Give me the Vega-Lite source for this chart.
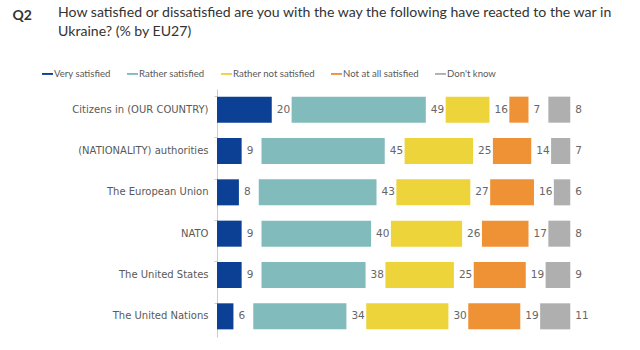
{
  "$schema": "https://vega.github.io/schema/vega-lite/v6.json",
  "autosize": "none",
  "width": 356,
  "height": 248,
  "padding": {"left": 217, "top": 89, "right": 67, "bottom": 13},
  "background": "white",
  "config": {
    "view": {"stroke": null},
    "font": "DejaVu Sans"
  },
  "title": {
    "text": ["How satisfied or dissatisfied are you with the way the following have reacted to the war in", "Ukraine? (% by EU27)"],
    "anchor": "start",
    "frame": "group",
    "dx": -159,
    "dy": 35,
    "font": "Lato",
    "fontSize": 14.1,
    "fontWeight": "normal",
    "color": "#333333",
    "lineHeight": 19,
    "baseline": "top"
  },
  "data": {
    "values": [
      {"entity": "Citizens in (OUR COUNTRY)", "category": "Very satisfied", "order": 0, "value": 20},
      {"entity": "Citizens in (OUR COUNTRY)", "category": "Rather satisfied", "order": 1, "value": 49},
      {"entity": "Citizens in (OUR COUNTRY)", "category": "Rather not satisfied", "order": 2, "value": 16},
      {"entity": "Citizens in (OUR COUNTRY)", "category": "Not at all satisfied", "order": 3, "value": 7},
      {"entity": "Citizens in (OUR COUNTRY)", "category": "Don't know", "order": 4, "value": 8},
      {"entity": "(NATIONALITY) authorities", "category": "Very satisfied", "order": 0, "value": 9},
      {"entity": "(NATIONALITY) authorities", "category": "Rather satisfied", "order": 1, "value": 45},
      {"entity": "(NATIONALITY) authorities", "category": "Rather not satisfied", "order": 2, "value": 25},
      {"entity": "(NATIONALITY) authorities", "category": "Not at all satisfied", "order": 3, "value": 14},
      {"entity": "(NATIONALITY) authorities", "category": "Don't know", "order": 4, "value": 7},
      {"entity": "The European Union", "category": "Very satisfied", "order": 0, "value": 8},
      {"entity": "The European Union", "category": "Rather satisfied", "order": 1, "value": 43},
      {"entity": "The European Union", "category": "Rather not satisfied", "order": 2, "value": 27},
      {"entity": "The European Union", "category": "Not at all satisfied", "order": 3, "value": 16},
      {"entity": "The European Union", "category": "Don't know", "order": 4, "value": 6},
      {"entity": "NATO", "category": "Very satisfied", "order": 0, "value": 9},
      {"entity": "NATO", "category": "Rather satisfied", "order": 1, "value": 40},
      {"entity": "NATO", "category": "Rather not satisfied", "order": 2, "value": 26},
      {"entity": "NATO", "category": "Not at all satisfied", "order": 3, "value": 17},
      {"entity": "NATO", "category": "Don't know", "order": 4, "value": 8},
      {"entity": "The United States", "category": "Very satisfied", "order": 0, "value": 9},
      {"entity": "The United States", "category": "Rather satisfied", "order": 1, "value": 38},
      {"entity": "The United States", "category": "Rather not satisfied", "order": 2, "value": 25},
      {"entity": "The United States", "category": "Not at all satisfied", "order": 3, "value": 19},
      {"entity": "The United States", "category": "Don't know", "order": 4, "value": 9},
      {"entity": "The United Nations", "category": "Very satisfied", "order": 0, "value": 6},
      {"entity": "The United Nations", "category": "Rather satisfied", "order": 1, "value": 34},
      {"entity": "The United Nations", "category": "Rather not satisfied", "order": 2, "value": 30},
      {"entity": "The United Nations", "category": "Not at all satisfied", "order": 3, "value": 19},
      {"entity": "The United Nations", "category": "Don't know", "order": 4, "value": 11}
    ]
  },
  "transform": [
    {"stack": "value", "groupby": ["entity"], "sort": [{"field": "order", "order": "ascending"}], "as": ["v0", "v1"]},
    {"calculate": "datum.v0 + datum.order * 7.25", "as": "x0"},
    {"calculate": "datum.v1 + datum.order * 7.25", "as": "x1"}
  ],
  "encoding": {
    "y": {
      "field": "entity",
      "type": "nominal",
      "sort": ["Citizens in (OUR COUNTRY)", "(NATIONALITY) authorities", "The European Union", "NATO", "The United States", "The United Nations"],
      "scale": {"paddingInner": 0.37, "paddingOuter": 0.185},
      "axis": {
        "title": "Q2",
        "titleAngle": 0,
        "titleX": -205,
        "titleY": -70,
        "titleAlign": "left",
        "titleBaseline": "alphabetic",
        "titleFont": "Lato",
        "titleFontSize": 14,
        "titleFontWeight": "bold",
        "titleColor": "#333333",
        "labelFont": "DejaVu Sans",
        "labelFontSize": 10,
        "labelColor": "#595959",
        "labelPadding": 6,
        "tickSize": 3,
        "tickColor": "#cccccc",
        "domainColor": "#cccccc",
        "bandPosition": 0,
        "domainWidth": 1
      }
    }
  },
  "layer": [
    {
      "mark": {"type": "bar"},
      "encoding": {
        "x": {"field": "x0", "type": "quantitative", "scale": {"domain": [0, 129]}, "axis": null},
        "x2": {"field": "x1"},
        "color": {
          "field": "category",
          "type": "nominal",
          "scale": {
            "domain": ["Very satisfied", "Rather satisfied", "Rather not satisfied", "Not at all satisfied", "Don't know"],
            "range": ["#0B4095", "#81BBBB", "#EDD43A", "#EF9236", "#AFAFAF"]
          },
          "legend": {
            "title": null,
            "orient": "none",
            "direction": "horizontal",
            "legendX": -175,
            "legendY": -21,
            "symbolType": "M-1,-0.17H1V0.17H-1Z",
            "symbolSize": 121,
            "symbolStrokeWidth": 0,
            "labelFont": "Lato",
            "labelFontSize": 9.6,
            "labelColor": "#595959",
            "labelOffset": 1,
            "columnPadding": 16
          }
        }
      }
    },
    {
      "mark": {"type": "text", "align": "left", "baseline": "middle", "dx": 5, "font": "DejaVu Sans", "fontSize": 10.5, "color": "#666666"},
      "encoding": {
        "x": {"field": "x1", "type": "quantitative"},
        "text": {"field": "value", "type": "quantitative"}
      }
    }
  ]
}
